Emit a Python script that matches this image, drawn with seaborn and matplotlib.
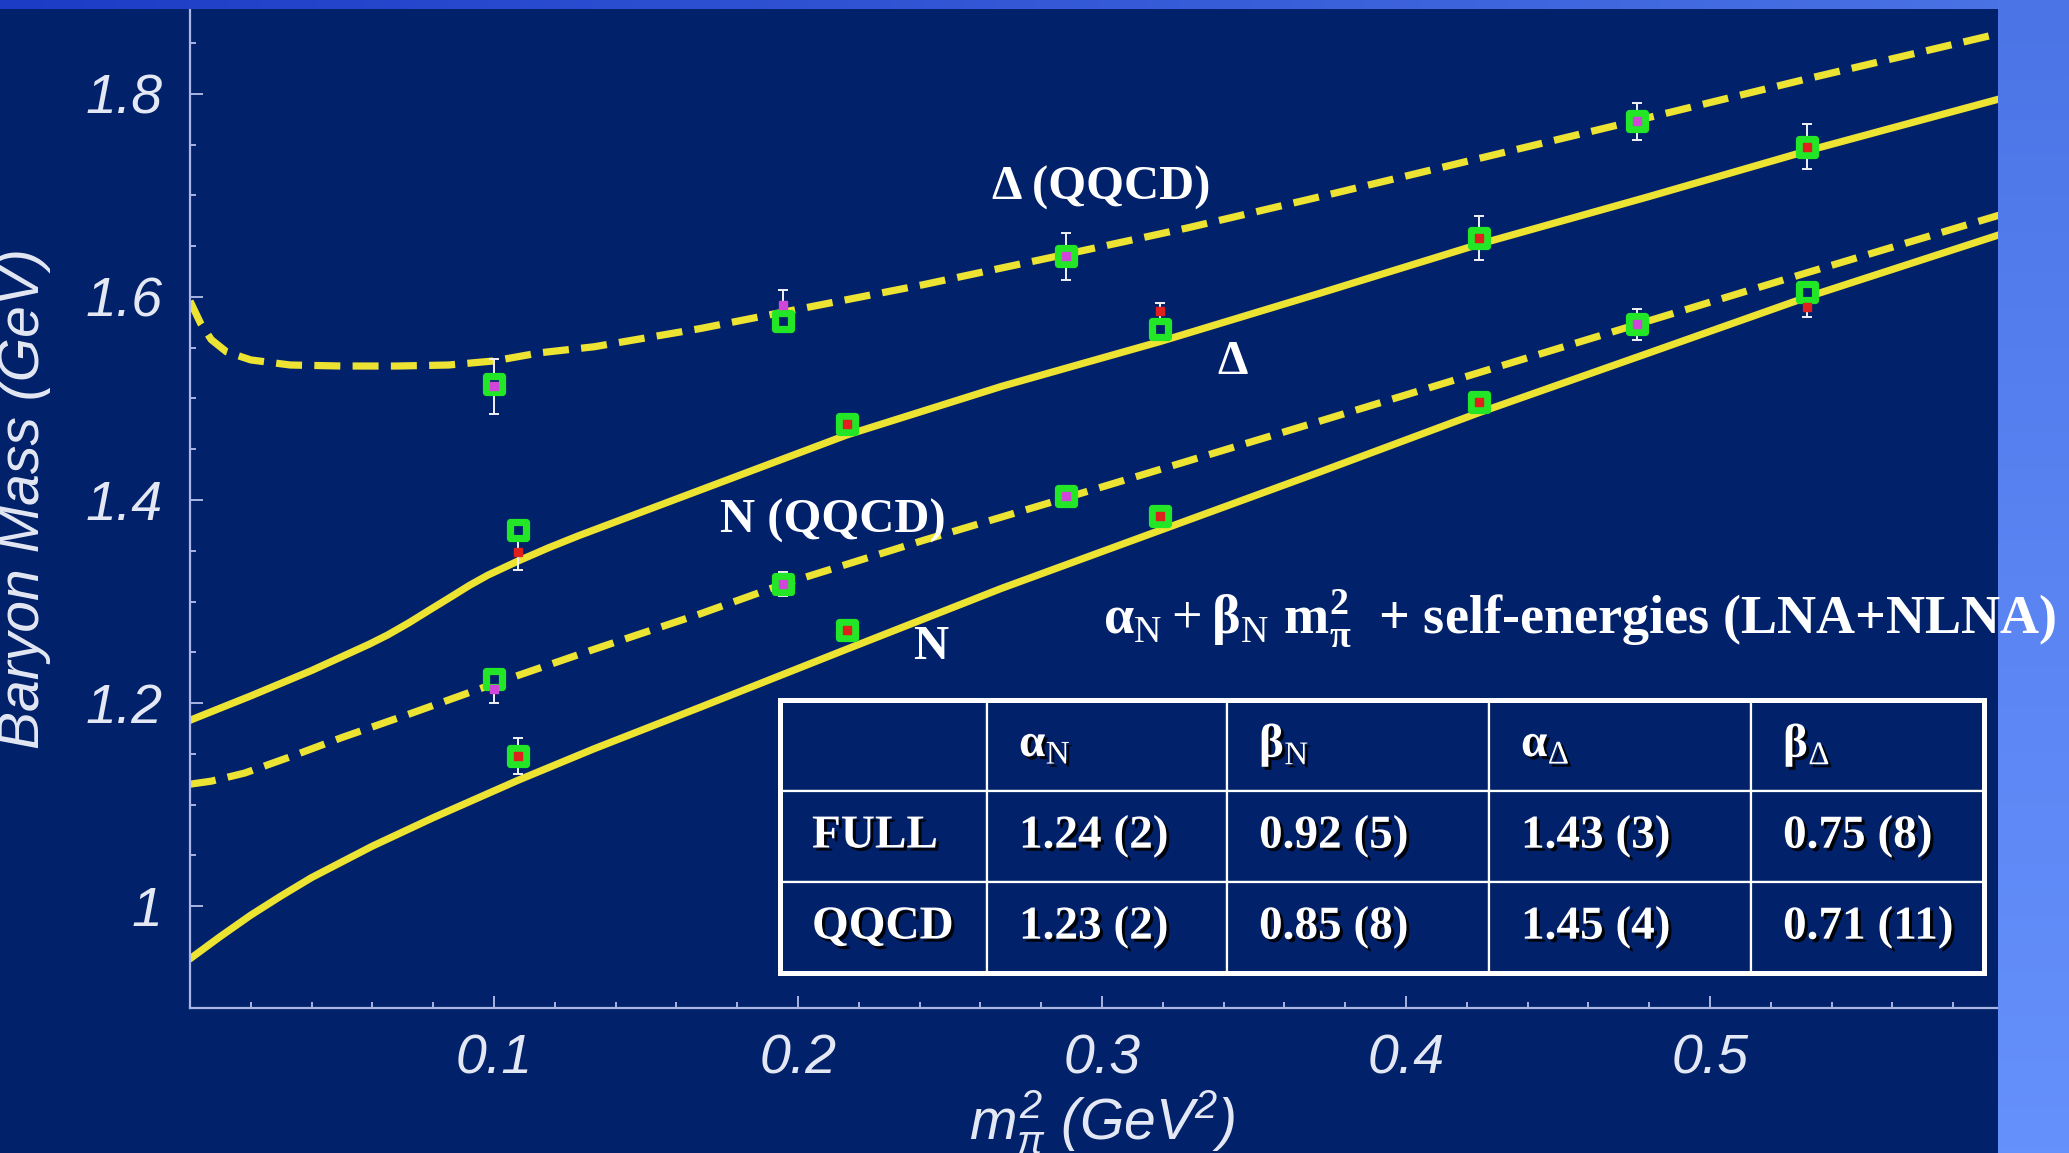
import matplotlib
matplotlib.use("Agg")
import numpy as np
import pandas as pd
import matplotlib.pyplot as plt
import matplotlib.patheffects as pe
from matplotlib.patches import Rectangle
from matplotlib.colors import LinearSegmentedColormap
from matplotlib.ticker import FixedLocator, FixedFormatter, MultipleLocator
import seaborn as sns

# ---------------- chiral extrapolation curves: m_pi^2 (GeV^2) -> mass (GeV)
delta_qqcd_x = [0.000, 0.0035, 0.007, 0.012, 0.020, 0.033, 0.050, 0.068, 0.085, 0.100, 0.115,
                0.133, 0.168, 0.195, 0.241, 0.288, 0.328, 0.372, 0.415, 0.476, 0.532, 0.600]
delta_qqcd_y = [1.596, 1.574, 1.558, 1.546, 1.538, 1.533, 1.532, 1.532, 1.533, 1.537, 1.545,
                1.551, 1.569, 1.585, 1.612, 1.642, 1.668, 1.699, 1.730, 1.774, 1.815, 1.863]

delta_full_x = [0.000, 0.020, 0.040, 0.059, 0.065, 0.072, 0.079, 0.085, 0.092, 0.098, 0.108,
                0.118, 0.128, 0.168, 0.216, 0.267, 0.319, 0.372, 0.424, 0.480, 0.532, 0.600]
delta_full_y = [1.183, 1.207, 1.232, 1.258, 1.267, 1.279, 1.292, 1.303, 1.316, 1.326, 1.340,
                1.353, 1.365, 1.410, 1.464, 1.512, 1.556, 1.604, 1.652, 1.699, 1.744, 1.799]

nuc_qqcd_x = [0.000, 0.007, 0.018, 0.033, 0.050, 0.072, 0.100, 0.133, 0.168, 0.195, 0.241,
              0.288, 0.372, 0.476, 0.532, 0.600]
nuc_qqcd_y = [1.120, 1.123, 1.131, 1.147, 1.166, 1.189, 1.219, 1.253, 1.288, 1.317, 1.360,
              1.402, 1.478, 1.573, 1.624, 1.685]

nuc_full_x = [0.000, 0.010, 0.020, 0.030, 0.040, 0.060, 0.080, 0.108, 0.133, 0.168, 0.216,
              0.267, 0.319, 0.372, 0.424, 0.480, 0.532, 0.600]
nuc_full_y = [0.948, 0.970, 0.991, 1.010, 1.028, 1.059, 1.087, 1.124, 1.155, 1.196, 1.253,
              1.313, 1.370, 1.428, 1.486, 1.545, 1.600, 1.666]

# ---------------- lattice points (squares) and raw data with errors
full_pts_x = [0.108, 0.216, 0.319, 0.424, 0.532]
qqcd_pts_x = [0.100, 0.195, 0.288, 0.476]

delta_full_sq = [1.370, 1.475, 1.568, 1.658, 1.748]
delta_full_pt = [1.349, 1.475, 1.586, 1.658, 1.748]
delta_full_err = [0.018, 0.008, 0.008, 0.022, 0.022]

delta_qqcd_sq = [1.514, 1.576, 1.640, 1.773]
delta_qqcd_pt = [1.512, 1.592, 1.640, 1.773]
delta_qqcd_err = [0.027, 0.015, 0.023, 0.018]

nuc_full_sq = [1.148, 1.272, 1.384, 1.497, 1.605]
nuc_full_pt = [1.148, 1.272, 1.384, 1.497, 1.590]
nuc_full_err = [0.018, 0.006, 0.006, 0.006, 0.010]

nuc_qqcd_sq = [1.224, 1.317, 1.404, 1.573]
nuc_qqcd_pt = [1.214, 1.317, 1.404, 1.573]
nuc_qqcd_err = [0.014, 0.012, 0.008, 0.015]

# ---------------- axis ticks
x_ticks = [0.1, 0.2, 0.3, 0.4, 0.5]
x_tick_labels = ["0.1", "0.2", "0.3", "0.4", "0.5"]
y_ticks = [1.0, 1.2, 1.4, 1.6, 1.8]
y_tick_labels = ["1", "1.2", "1.4", "1.6", "1.8"]

# ---------------- fit parameter table
table_header = ["", r"α$_{\mathrm{N}}$", r"β$_{\mathrm{N}}$", r"α$_{\mathrm{Δ}}$", r"β$_{\mathrm{Δ}}$"]
table_rows = ["FULL", "QQCD"]
fit_full = ["1.24 (2)", "0.92 (5)", "1.43 (3)", "0.75 (8)"]
fit_qqcd = ["1.23 (2)", "0.85 (8)", "1.45 (4)", "0.71 (11)"]

# ---------------- style
NAVY = "#01216a"
YELLOW = "#ece332"
GREEN = "#22e626"
RED = "#e0201c"
MAGENTA = "#d046d8"
AXIS = "#a9b6e2"
TICKTXT = "#e4e8f4"

sns.set_style("ticks")
plt.rcParams["font.family"] = ["Liberation Sans", "DejaVu Sans"]
plt.rcParams["mathtext.fontset"] = "custom"
plt.rcParams["mathtext.rm"] = "Liberation Serif"
plt.rcParams["mathtext.bf"] = "Liberation Serif:bold"
plt.rcParams["mathtext.it"] = "Liberation Sans:italic"
plt.rcParams["mathtext.sf"] = "Liberation Sans:italic"

W, H = 2069, 1153
fig = plt.figure(figsize=(W / 100, H / 100), dpi=100, facecolor=NAVY)

ax = fig.add_axes([190 / W, (H - 1007.5) / H, 1824 / W, 1015 / H], zorder=0)
ax.set_facecolor(NAVY)

curves = [
    (delta_qqcd_x, delta_qqcd_y, True),
    (delta_full_x, delta_full_y, False),
    (nuc_qqcd_x, nuc_qqcd_y, True),
    (nuc_full_x, nuc_full_y, False),
]
for cx, cy, quenched in curves:
    df = pd.DataFrame({"m2": cx, "mass": cy})
    kw = dict(linestyle=(0, (3.6, 1.7))) if quenched else dict(linestyle="-")
    sns.lineplot(data=df, x="m2", y="mass", ax=ax, color=YELLOW, lw=5.2,
                 estimator=None, sort=False, errorbar=None, zorder=2, **kw)

point_sets = [
    (full_pts_x, delta_full_sq, delta_full_pt, delta_full_err, RED),
    (qqcd_pts_x, delta_qqcd_sq, delta_qqcd_pt, delta_qqcd_err, MAGENTA),
    (full_pts_x, nuc_full_sq, nuc_full_pt, nuc_full_err, RED),
    (qqcd_pts_x, nuc_qqcd_sq, nuc_qqcd_pt, nuc_qqcd_err, MAGENTA),
]
for px, sq, pt, err, dot in point_sets:
    ax.errorbar(px, pt, yerr=err, fmt="none", ecolor="#f2f2f6", elinewidth=1.4,
                capsize=3.5, capthick=1.4, zorder=2.5)
    sns.scatterplot(x=px, y=sq, ax=ax, marker="s", s=12 ** 2, color=NAVY,
                    edgecolor=GREEN, linewidth=5.2, zorder=3, legend=False)
    ax.plot(px, pt, "s", ms=6, color=dot, mec=dot, zorder=4)

ax.set_xlim(0, 0.6)
ax.set_ylim(0.9, 1.9)

for side in ("top", "right"):
    ax.spines[side].set_visible(False)
for side in ("left", "bottom"):
    ax.spines[side].set_color(AXIS)
    ax.spines[side].set_linewidth(1.6)

ax.xaxis.set_major_locator(FixedLocator(x_ticks))
ax.xaxis.set_major_formatter(FixedFormatter(x_tick_labels))
ax.xaxis.set_minor_locator(MultipleLocator(0.02))
ax.yaxis.set_major_locator(FixedLocator(y_ticks))
ax.yaxis.set_major_formatter(FixedFormatter(y_tick_labels))
ax.yaxis.set_minor_locator(MultipleLocator(0.05))

ax.tick_params(which="both", direction="in", color=AXIS, width=1.4)
ax.tick_params(which="major", length=9)
ax.tick_params(which="minor", length=4.5)
ax.tick_params(axis="x", which="major", pad=19, labelsize=40, labelcolor=TICKTXT)
ax.tick_params(axis="y", which="major", pad=20, labelsize=40, labelcolor=TICKTXT)
for lab in ax.get_xticklabels() + ax.get_yticklabels():
    lab.set_fontstyle("italic")

ax.set_xlabel(r"$m_{\pi}^{\mathsf{2}}$ (GeV$^{\mathsf{2}}$)", fontsize=41,
              fontstyle="italic", color=TICKTXT)
ax.xaxis.set_label_coords(0.5, -0.113)
ax.xaxis.label.set_va("center")
ax.set_ylabel("Baryon Mass (GeV)", fontsize=41, fontstyle="italic", color=TICKTXT)
ax.yaxis.set_label_coords(-0.091, 0.501)
ax.yaxis.label.set_va("center")

serif = dict(fontfamily="Liberation Serif", fontweight="bold", color="white",
             fontsize=35, va="center", ha="left", zorder=6)
ax.text(0.2638, 1.708, "Δ (QQCD)", **serif)
ax.text(0.3378, 1.536, "Δ", **serif)
ax.text(0.1743, 1.379, "N (QQCD)", **serif)
ax.text(0.2380, 1.255, "N", **serif)

# ---------------- slide frame: gradient strips on top and right
ov = fig.add_axes([0, 0, 1, 1], zorder=5)
ov.patch.set_alpha(0)
top_cmap = LinearSegmentedColormap.from_list("top", ["#1d3cc6", "#3458d6", "#4b74e6"])
side_cmap = LinearSegmentedColormap.from_list("side", ["#4b74e6", "#5a84f2", "#6591fc"])
ov.imshow(np.linspace(0, 1, 256)[None, :], extent=(0, W, 9, 0), cmap=top_cmap,
          aspect="auto", interpolation="bilinear", zorder=0)
ov.imshow(np.linspace(0, 1, 256)[:, None], extent=(1998, W, H, 0), cmap=side_cmap,
          aspect="auto", interpolation="bilinear", zorder=0)
ov.set_xlim(0, W)
ov.set_ylim(H, 0)
ov.axis("off")

formula = (r"$\mathbf{α}_{\mathrm{N}} + \mathbf{β}_{\mathrm{N}}\ \mathbf{m}_{\mathbf{π}}^{\mathbf{2}}$"
           "  + self-energies (LNA+NLNA)")
ov.text(1103, 619, formula, fontfamily="Liberation Serif", fontweight="bold",
        color="white", fontsize=39, va="center", ha="left", zorder=6)

# ---------------- fit table
col_px = [207, 240, 262, 262, 233]
cells = [table_header, [table_rows[0]] + fit_full, [table_rows[1]] + fit_qqcd]
tb = ov.table(cellText=cells, colWidths=[c / sum(col_px) for c in col_px],
              cellLoc="left",
              bbox=[780 / W, 1 - 973 / H, 1204 / W, 273 / H])
tb.auto_set_font_size(False)
shadow = [pe.withSimplePatchShadow(offset=(2.2, -2.2), shadow_rgbFace="black", alpha=0.9)]
for (r, c), cell in tb.get_celld().items():
    cell.set_facecolor(NAVY)
    cell.set_edgecolor("white")
    cell.set_linewidth(1.6)
    cell.PAD = 32 / col_px[c]
    t = cell.get_text()
    t.set_fontfamily("Liberation Serif")
    t.set_fontweight("bold")
    t.set_fontsize(34)
    t.set_color("white")
    t.set_path_effects(shadow)
ov.add_patch(Rectangle((780, 700), 1204, 273, fill=False, ec="white", lw=3.6, zorder=7))

fig.savefig("out.png", dpi=100, facecolor=NAVY)
